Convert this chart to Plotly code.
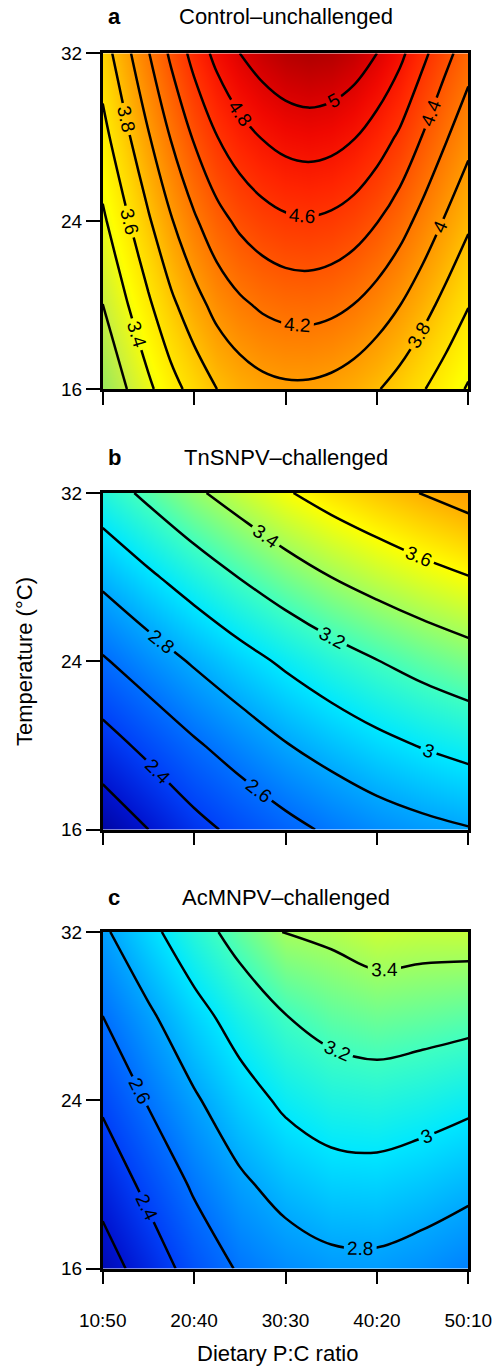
import plotly.graph_objects as go

# ---------------- data ----------------
pc_ratio_a = [10, 12.5, 15, 17.5, 20, 22.5, 25, 27.5, 30, 32.5, 35, 37.5, 40, 42.5, 45, 47.5, 50]
pc_ratio = [10, 15, 20, 25, 30, 35, 40, 45, 50]          # protein part of P:C
temperature = [16, 20, 24, 28, 32]
x_tick_vals = [10, 20, 30, 40, 50]
x_tick_text = ["10:50", "20:40", "30:30", "40:20", "50:10"]
y_tick_vals = [16, 24, 32]

control_z = [
    [3.03, 3.19, 3.36, 3.53, 3.67, 3.80, 3.885, 3.94, 3.965, 3.965, 3.94, 3.89, 3.815, 3.72, 3.615, 3.50, 3.38],
    [3.198, 3.378, 3.568, 3.758, 3.92, 4.065, 4.164, 4.23, 4.266, 4.274, 4.25, 4.196, 4.111, 4.003, 3.874, 3.74, 3.608],
    [3.365, 3.565, 3.775, 3.985, 4.17, 4.33, 4.443, 4.52, 4.568, 4.583, 4.56, 4.503, 4.408, 4.285, 4.133, 3.98, 3.835],
    [3.533, 3.753, 3.983, 4.213, 4.42, 4.595, 4.721, 4.81, 4.869, 4.891, 4.87, 4.809, 4.704, 4.568, 4.391, 4.22, 4.063],
    [3.70, 3.94, 4.19, 4.44, 4.67, 4.86, 5.00, 5.10, 5.17, 5.20, 5.18, 5.115, 5.00, 4.85, 4.65, 4.46, 4.29],
]
tnsnpv_z = [
    [2.06, 2.20, 2.34, 2.45, 2.545, 2.63, 2.70, 2.75, 2.79],
    [2.32, 2.45, 2.575, 2.685, 2.79, 2.875, 2.95, 3.01, 3.06],
    [2.58, 2.705, 2.82, 2.93, 3.03, 3.12, 3.195, 3.265, 3.325],
    [2.845, 2.97, 3.09, 3.205, 3.31, 3.40, 3.475, 3.54, 3.595],
    [3.11, 3.24, 3.37, 3.48, 3.585, 3.67, 3.74, 3.805, 3.865],
]
acmnpv_z = [
    [2.11, 2.29, 2.475, 2.62, 2.70, 2.75, 2.756, 2.717, 2.66],
    [2.27, 2.45, 2.626, 2.768, 2.867, 2.925, 2.932, 2.897, 2.848],
    [2.433, 2.616, 2.777, 2.922, 3.034, 3.096, 3.111, 3.083, 3.042],
    [2.60, 2.77, 2.936, 3.08, 3.196, 3.264, 3.296, 3.278, 3.256],
    [2.77, 2.95, 3.12, 3.27, 3.41, 3.435, 3.485, 3.473, 3.477],
]
panel_letters = ["a", "b", "c"]
panel_titles = ["Control\u2013unchallenged", "TnSNPV\u2013challenged", "AcMNPV\u2013challenged"]

# colour stops (value, colour)
cool_stops = [(2.0, "#000090"), (2.2, "#0014d0"), (2.4, "#0040f8"), (2.6, "#0070ff"),
              (2.8, "#00a8ff"), (3.0, "#00e8ff"), (3.2, "#40ffc0"), (3.4, "#a0ff60"),
              (3.6, "#ffff00"), (3.8, "#ffb000"), (3.95, "#ff8800")]
warm_stops = [(3.0, "#90e860"), (3.2, "#c8f040"), (3.45, "#ffff00"), (3.7, "#ffd400"),
              (3.9, "#ffac00"), (4.1, "#ff8800"), (4.3, "#ff6600"), (4.5, "#ff4400"),
              (4.7, "#ff2400"), (4.9, "#f00800"), (5.05, "#d40000"), (5.2, "#b00000")]


def make_scale(stops):
    lo, hi = stops[0][0], stops[-1][0]
    return [[(v - lo) / (hi - lo), c] for v, c in stops], lo, hi


FONT = "Liberation Sans, Arial, Helvetica, sans-serif"
W, H = 493, 1366

fig = go.Figure()
specs = [
    (pc_ratio_a, control_z, warm_stops, 3.2, 5.0),
    (pc_ratio, tnsnpv_z, cool_stops, 2.2, 3.8),
    (pc_ratio, acmnpv_z, cool_stops, 2.2, 3.4),
]
for i, (xs, z, stops, c0, c1) in enumerate(specs):
    scale, lo, hi = make_scale(stops)
    sfx = "" if i == 0 else str(i + 1)
    fig.add_trace(go.Contour(
        x=xs, y=temperature, z=z,
        colorscale=scale, zmin=lo, zmax=hi, showscale=False,
        contours=dict(start=c0 - 1e-6, end=c1 + 0.01, size=0.2, coloring="heatmap",
                      showlabels=True,
                      labelfont=dict(size=19, color="black", family=FONT)),
        line=dict(color="black", width=2.5, smoothing=1.0),
        xaxis="x" + sfx, yaxis="y" + sfx, hoverinfo="skip",
    ))

x_dom = [102.7 / W, 468.3 / W]
box_px = [(53.3, 389.0), (493.0, 829.5), (932.0, 1268.5)]
axis_common = dict(showline=True, mirror=True, linewidth=2.5, linecolor="black",
                   ticks="outside", tickwidth=2, tickcolor="black",
                   showgrid=False, zeroline=False, fixedrange=True,
                   automargin=False)
layout = dict(width=W, height=H, autosize=False,
              margin=dict(l=0, r=0, t=0, b=0, pad=0),
              paper_bgcolor="white", plot_bgcolor="white",
              font=dict(family=FONT, color="black"), showlegend=False)
for i, (top, bot) in enumerate(box_px):
    sfx = "" if i == 0 else str(i + 1)
    last = i == 2
    layout["xaxis" + sfx] = dict(axis_common, domain=x_dom, anchor="y" + sfx,
                                 range=[10, 50], tickvals=x_tick_vals,
                                 ticktext=x_tick_text, showticklabels=last,
                                 ticklen=13, tickfont=dict(size=19),
                                 ticklabelstandoff=20)
    layout["yaxis" + sfx] = dict(axis_common, domain=[1 - bot / H, 1 - top / H],
                                 anchor="x" + sfx, range=[16, 32],
                                 tickvals=y_tick_vals, ticklen=14,
                                 tickfont=dict(size=19))
fig.update_layout(**layout)

title_y = [17, 457, 897]
for i in range(3):
    fig.add_annotation(x=106 / W, y=1 - title_y[i] / H, xref="paper", yref="paper",
                       text="<b>%s</b>" % panel_letters[i], showarrow=False,
                       xanchor="left", yanchor="middle", font=dict(size=22))
    fig.add_annotation(x=285.5 / W, y=1 - title_y[i] / H, xref="paper", yref="paper",
                       text=panel_titles[i], showarrow=False,
                       xanchor="center", yanchor="middle", font=dict(size=22))

fig.add_annotation(x=277 / W, y=1 - 1353 / H, xref="paper", yref="paper",
                   text="Dietary P:C ratio", showarrow=False,
                   xanchor="center", yanchor="middle", font=dict(size=22))
fig.add_annotation(x=24 / W, y=1 - 662 / H, xref="paper", yref="paper",
                   text="Temperature (\u00b0C)", showarrow=False, textangle=-90,
                   xanchor="center", yanchor="middle", font=dict(size=22))

fig.write_html("out.html", config={"displayModeBar": False},
               post_script="document.body.style.margin='0';document.body.style.padding='0';")
